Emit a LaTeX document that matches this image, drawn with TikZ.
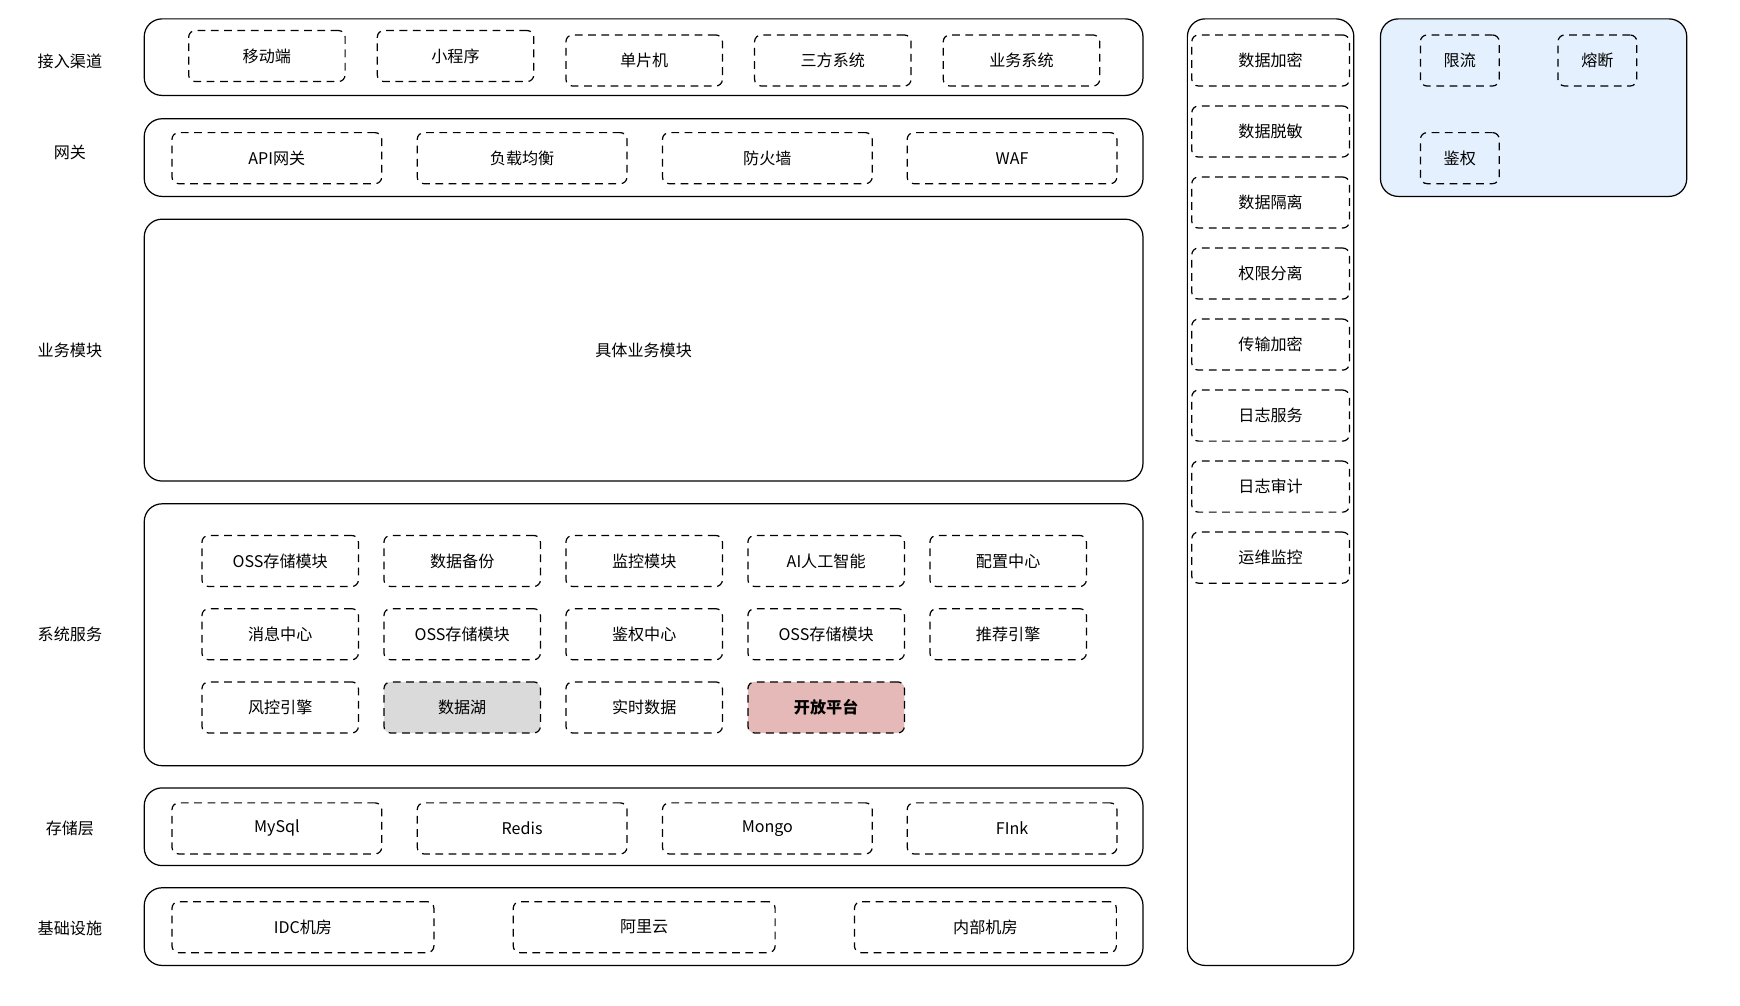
\documentclass[tikz,border=0pt]{standalone}
\usepackage{fontspec}
\setmainfont{Noto Sans CJK SC}
\definecolor{paleblue}{RGB}{228,240,253}
\definecolor{lakegray}{RGB}{218,218,218}
\definecolor{openpink}{RGB}{229,185,184}
\begin{document}
\begin{tikzpicture}[x=1pt,y=-1pt,
    layerbox/.style={draw, line width=1.1pt, rounded corners=16pt, inner sep=0pt},
    dashbox/.style={draw, line width=1.1pt, dash pattern=on 7pt off 5pt, rounded corners=6pt, minimum height=46pt, inner sep=0pt},
    lbl/.style={inner sep=0pt},
    font=\fontsize{14.5}{17}\selectfont]
\useasboundingbox (0,0) rectangle (1568,905.7);

\node[layerbox, minimum width=900pt, minimum height=69pt] (channel) at (580,51.5) {};
\node[layerbox, minimum width=900pt, minimum height=70pt] (gateway) at (580,142) {};
\node[layerbox, minimum width=900pt, minimum height=236pt] (biz) at (580,315.5) {具体业务模块};
\node[layerbox, minimum width=900pt, minimum height=236pt] (sys) at (580,572) {};
\node[layerbox, minimum width=900pt, minimum height=70pt] (store) at (580,745) {};
\node[layerbox, minimum width=900pt, minimum height=70pt] (infra) at (580,835) {};
\node[layerbox, minimum width=150pt, minimum height=853pt] (safety) at (1145,443.5) {};
\node[layerbox, fill=paleblue, minimum width=276pt, minimum height=160pt] (guard) at (1382,97) {};

\node[lbl] (lchannel) at (63,55.5) {接入渠道};
\node[lbl] (lgateway) at (63,137.5) {网关};
\node[lbl] (lbiz) at (63,315.5) {业务模块};
\node[lbl] (lsys) at (63,571.5) {系统服务};
\node[lbl] (lstore) at (63,746.5) {存储层};
\node[lbl] (linfra) at (63,836.5) {基础设施};

\node[dashbox, minimum width=141pt] (mobile) at (240.5,50.5) {移动端};
\node[dashbox, minimum width=141pt] (miniapp) at (410.5,50.5) {小程序};
\node[dashbox, minimum width=141pt] (mcu) at (580.5,54.5) {单片机};
\node[dashbox, minimum width=141pt] (thirdparty) at (750.5,54.5) {三方系统};
\node[dashbox, minimum width=141pt] (bizsys) at (920.5,54.5) {业务系统};

\node[dashbox, minimum width=189pt] (apigw) at (249.5,142.5) {API网关};
\node[dashbox, minimum width=189pt] (lb) at (470.5,142.5) {负载均衡};
\node[dashbox, minimum width=189pt] (firewall) at (691.5,142.5) {防火墙};
\node[dashbox, minimum width=189pt] (waf) at (912,142.5) {WAF};

\node[dashbox, minimum width=141pt] (oss1) at (252.5,505.5) {OSS存储模块};
\node[dashbox, minimum width=141pt] (backup) at (416.5,505.5) {数据备份};
\node[dashbox, minimum width=141pt] (monitor) at (580.5,505.5) {监控模块};
\node[dashbox, minimum width=141pt] (ai) at (744.5,505.5) {AI人工智能};
\node[dashbox, minimum width=141pt] (config) at (908.5,505.5) {配置中心};
\node[dashbox, minimum width=141pt] (msg) at (252.5,571.5) {消息中心};
\node[dashbox, minimum width=141pt] (oss2) at (416.5,571.5) {OSS存储模块};
\node[dashbox, minimum width=141pt] (authc) at (580.5,571.5) {鉴权中心};
\node[dashbox, minimum width=141pt] (oss3) at (744.5,571.5) {OSS存储模块};
\node[dashbox, minimum width=141pt] (recommend) at (908.5,571.5) {推荐引擎};
\node[dashbox, minimum width=141pt] (risk) at (252.5,637.5) {风控引擎};
\node[dashbox, minimum width=141pt, fill=lakegray] (lake) at (416.5,637.5) {数据湖};
\node[dashbox, minimum width=141pt] (realtime) at (580.5,637.5) {实时数据};
\node[dashbox, minimum width=141pt, fill=openpink, font=\fontsize{14.5}{17}\selectfont\bfseries] (openapi) at (744.5,637.5) {开放平台};

\node[dashbox, minimum width=189pt] (mysql) at (249.5,746.5) {MySql};
\node[dashbox, minimum width=189pt] (redis) at (470.5,746.5) {Redis};
\node[dashbox, minimum width=189pt] (mongo) at (691.5,746.5) {Mongo};
\node[dashbox, minimum width=189pt] (flink) at (912,746.5) {FInk};

\node[dashbox, minimum width=236pt] (idc) at (273,835.5) {IDC机房};
\node[dashbox, minimum width=236pt] (aliyun) at (580.5,835.5) {阿里云};
\node[dashbox, minimum width=236pt] (inner) at (888,835.5) {内部机房};

\node[dashbox, minimum width=142pt] (encrypt) at (1145,54.5) {数据加密};
\node[dashbox, minimum width=142pt] (mask) at (1145,118.5) {数据脱敏};
\node[dashbox, minimum width=142pt] (isolate) at (1145,182.5) {数据隔离};
\node[dashbox, minimum width=142pt] (perm) at (1145,246.5) {权限分离};
\node[dashbox, minimum width=142pt] (tls) at (1145,310.5) {传输加密};
\node[dashbox, minimum width=142pt] (logsvc) at (1145,374.5) {日志服务};
\node[dashbox, minimum width=142pt] (audit) at (1145,438.5) {日志审计};
\node[dashbox, minimum width=142pt] (ops) at (1145,502.5) {运维监控};

\node[dashbox, minimum width=71pt] (ratelimit) at (1315.5,54.5) {限流};
\node[dashbox, minimum width=71pt] (breaker) at (1439.5,54.5) {熔断};
\node[dashbox, minimum width=71pt] (auth) at (1315.5,142.5) {鉴权};

\end{tikzpicture}
\end{document}
